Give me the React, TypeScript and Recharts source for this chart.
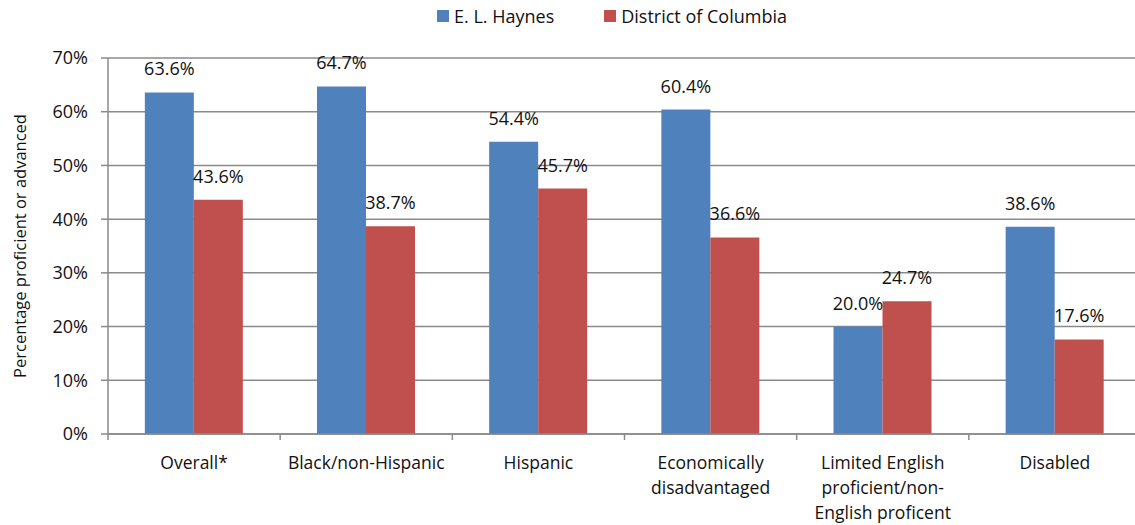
import * as React from "react"
import { BarChart, Bar, XAxis, YAxis, CartesianGrid, Legend, LabelList } from "recharts"

const categories = [
  "Overall*",
  "Black/non-Hispanic",
  "Hispanic",
  "Economically\ndisadvantaged",
  "Limited English\nproficient/non-\nEnglish proficent",
  "Disabled",
]
const elHaynes = [63.6, 64.7, 54.4, 60.4, 20.0, 38.6]
const districtOfColumbia = [43.6, 38.7, 45.7, 36.6, 24.7, 17.6]
const yTicks = [0, 10, 20, 30, 40, 50, 60, 70]

const BLUE = "#4F81BD"
const RED = "#C0504D"
const GRID = "#8a8a8a"
const INK = "#111"
const FONT = "'Open Sans', sans-serif"

const data = categories.map((name, i) => ({
  name,
  haynes: elHaynes[i],
  dc: districtOfColumbia[i],
}))

function CategoryTick(props: any) {
  const { x, y, payload } = props
  const lines: string[] = String(payload.value).split("\n")
  const half = payload.offset || 86
  return (
    <g>
      <line x1={x - half} x2={x - half} y1={y} y2={y + 6} stroke={GRID} strokeWidth={1.5} />
      <text x={x} y={y} textAnchor="middle" fill={INK} fontSize={17.5} fontFamily={FONT}>
        {lines.map((l, i) => (
          <tspan key={i} x={x} dy={i === 0 ? 35 : 25}>{l}</tspan>
        ))}
      </text>
    </g>
  )
}

function LegendContent() {
  const items = [
    { label: "E. L. Haynes", color: BLUE },
    { label: "District of Columbia", color: RED },
  ]
  return (
    <div style={{ display: "flex", alignItems: "center", fontFamily: FONT, fontSize: 18, color: INK }}>
      {items.map((it, i) => (
        <div key={it.label} style={{ display: "flex", alignItems: "center", marginRight: i === 0 ? 50 : 0 }}>
          <span style={{ width: 12, height: 12, background: it.color, display: "inline-block", marginRight: 5 }} />
          <span>{it.label}</span>
        </div>
      ))}
    </div>
  )
}

export default function App() {
  const pct = (v: any) => `${Number(v).toFixed(1)}%`
  return (
    <div style={{ position: "absolute", left: 0, top: 0, width: 1135, height: 525, overflow: "hidden", background: "#fff" }}>
      <style>{`body{margin:0;overflow:hidden}`}</style>
      <BarChart
        width={1150}
        height={525}
        data={data}
        margin={{ top: 34, right: 9, bottom: 61, left: 0 }}
        barGap={0}
        barCategoryGap="21.4%"
      >
        <CartesianGrid vertical={false} stroke={GRID} strokeWidth={1.5} />
        <Legend
          verticalAlign="top"
          content={<LegendContent />}
          wrapperStyle={{ top: 4, left: 437, width: "auto" }}
        />
        <XAxis
          dataKey="name"
          interval={0}
          tickLine={false}
          tickSize={0}
          tickMargin={0}
          axisLine={{ stroke: GRID, strokeWidth: 1.5 }}
          tick={<CategoryTick />}
        />
        <YAxis
          width={108}
          domain={[0, 70]}
          ticks={yTicks}
          interval={0}
          tickFormatter={(v) => `${v}%`}
          tickSize={7}
          tickMargin={13}
          tickLine={{ stroke: GRID, strokeWidth: 1.5 }}
          axisLine={{ stroke: GRID, strokeWidth: 1.5 }}
          tick={{ fill: INK, fontSize: 18, fontFamily: FONT }}
          label={{
            value: "Percentage proficient or advanced",
            angle: -90,
            position: "center",
            dx: -34,
            fill: INK,
            fontSize: 16.5,
            fontFamily: FONT,
          }}
        />
        <Bar dataKey="haynes" name="E. L. Haynes" fill={BLUE} isAnimationActive={false}>
          <LabelList dataKey="haynes" position="top" offset={17} formatter={pct} fill={INK} fontSize={18} fontFamily={FONT} />
        </Bar>
        <Bar dataKey="dc" name="District of Columbia" fill={RED} isAnimationActive={false}>
          <LabelList dataKey="dc" position="top" offset={17} formatter={pct} fill={INK} fontSize={18} fontFamily={FONT} />
        </Bar>
      </BarChart>
    </div>
  )
}
